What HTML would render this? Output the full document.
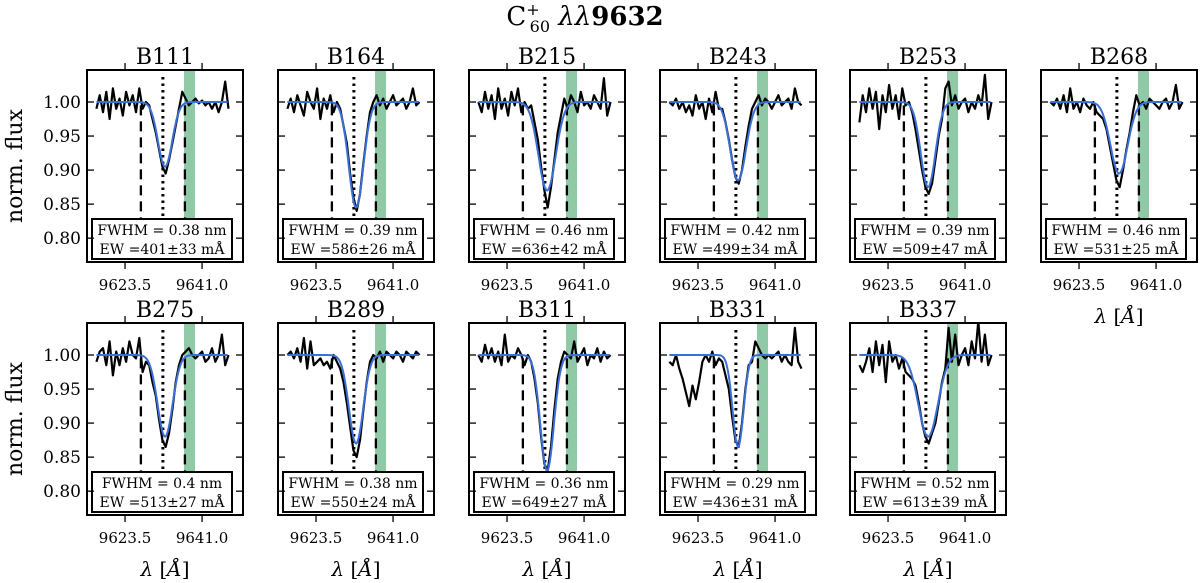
<!DOCTYPE html>
<html><head><meta charset="utf-8">
<style>
html,body{margin:0;padding:0;background:#fff;}
svg{display:block;font-family:"DejaVu Serif","Liberation Serif",serif;}
</style></head>
<body>
<svg id="fig" width="1200" height="583" viewBox="0 0 1200 583" xmlns="http://www.w3.org/2000/svg">
<text x="585" y="25" text-anchor="middle" font-size="26">C<tspan font-size="16" dy="-10">+</tspan><tspan font-size="16" dx="-10" dy="17">60</tspan><tspan dy="-7" font-style="italic"> λλ</tspan><tspan font-weight="bold">9632</tspan></text>
</svg>
<script>
const names = ["B111","B164","B215","B243","B253","B268","B275","B289","B311","B331","B337"];
const fitMin = [0.905,0.845,0.87,0.885,0.875,0.895,0.88,0.87,0.83,0.865,0.88];
const fwhmNm = [0.38,0.39,0.46,0.42,0.39,0.46,0.4,0.38,0.36,0.29,0.52];
const ewVal = [401,586,636,499,509,531,513,550,649,436,613];
const ewErr = [33,26,42,34,47,25,27,24,27,31,39];
const fitCenter = 9632.6;
const lambdaStart = 9617, lambdaStep = 0.75;
const xTicks = [9623.5, 9641.0];
const yTicks = [0.80, 0.85, 0.90, 0.95, 1.00];
const dashL = 9627.1, dotC = 9632.1, dashR = 9637.1, bandL = 9636.9, bandR = 9639.4;
const obs = [
[0.99,1.01,0.985,1.015,0.975,1.02,0.99,1.005,0.98,1.015,0.995,1.01,0.985,1.02,0.99,1.0,0.995,0.975,0.955,0.93,0.905,0.895,0.915,0.94,0.965,0.99,1.015,1.005,0.995,1.0,1.005,0.998,1.002,0.995,1.0,0.99,1.0,0.985,1.0,1.03,0.99],
[0.99,1.005,0.985,1.01,0.995,0.98,1.015,1.0,0.99,1.02,0.975,1.005,0.99,1.01,0.985,1.0,0.99,0.965,0.94,0.895,0.86,0.84,0.865,0.91,0.95,0.985,1.0,1.01,0.995,1.005,0.99,1.0,1.01,0.995,1.0,1.005,0.99,1.0,1.02,0.995,1.0],
[1.0,0.985,1.015,0.99,1.01,0.975,1.02,0.99,1.005,0.98,1.015,0.995,1.02,0.985,1.0,0.99,0.995,0.97,0.945,0.905,0.87,0.845,0.875,0.915,0.955,0.98,1.005,0.99,1.01,1.0,0.985,1.015,0.995,1.0,0.99,1.01,1.0,0.99,1.035,0.98,1.0],
[1.0,0.995,1.005,0.99,1.0,0.985,0.995,0.98,1.01,0.99,1.0,0.975,1.005,0.985,1.015,0.99,0.99,0.97,0.945,0.915,0.89,0.88,0.9,0.935,0.965,0.99,1.0,1.01,0.995,1.005,1.0,0.99,1.0,1.01,0.995,1.0,1.005,0.99,1.02,1.0,0.995],
[0.97,1.01,0.985,1.02,0.99,1.015,0.96,1.01,0.985,1.025,0.99,1.01,0.975,1.02,0.995,1.0,0.985,0.96,0.93,0.9,0.875,0.865,0.88,0.915,0.95,0.975,1.02,1.03,0.995,1.01,0.99,1.0,1.005,0.985,1.0,0.99,1.01,0.995,1.04,0.975,1.0],
[1.0,0.995,1.005,0.99,1.01,0.985,1.02,0.99,1.0,0.985,1.005,0.995,0.99,1.0,0.985,0.98,0.975,0.96,0.935,0.91,0.885,0.875,0.9,0.93,0.955,0.985,1.01,0.995,1.0,0.99,1.005,1.0,0.995,0.99,1.0,1.005,0.99,1.0,1.025,0.99,1.0],
[0.99,1.005,1.01,0.985,1.02,0.97,1.005,0.985,1.01,0.99,1.02,1.0,0.995,1.025,0.975,0.99,0.985,0.96,0.94,0.905,0.875,0.865,0.885,0.92,0.96,0.985,1.0,1.005,1.01,1.0,0.995,1.0,1.005,0.99,0.995,1.01,0.99,1.0,1.03,0.985,1.0],
[1.0,1.005,0.995,1.01,0.99,1.025,0.98,1.02,0.985,0.99,0.995,0.985,0.99,0.98,1.0,0.99,0.98,0.96,0.93,0.895,0.86,0.85,0.875,0.92,0.96,0.99,1.0,0.995,1.005,0.99,1.005,1.0,0.995,1.005,1.0,0.99,1.005,1.0,0.995,1.005,1.0],
[1.0,0.99,1.015,0.995,1.01,0.99,1.005,0.985,1.03,0.99,1.0,0.995,1.01,1.0,0.985,1.0,0.99,0.965,0.93,0.88,0.84,0.83,0.865,0.92,0.965,0.99,1.005,1.0,0.995,1.02,0.99,1.0,1.01,0.985,1.0,0.995,1.01,0.99,1.005,0.995,1.0],
[0.99,0.985,1.0,0.98,0.965,0.945,0.925,0.955,0.935,0.96,0.99,1.0,0.99,1.005,0.985,0.995,0.99,0.97,0.95,0.91,0.875,0.865,0.9,0.95,0.985,0.99,1.02,1.01,1.0,0.995,1.0,0.995,1.0,1.005,0.99,1.0,0.99,0.985,1.04,0.99,0.98],
[0.985,0.975,0.99,1.01,0.975,1.02,0.985,1.015,0.96,1.02,0.99,1.0,0.98,0.995,0.975,0.97,0.965,0.955,0.93,0.9,0.88,0.87,0.885,0.9,0.93,0.96,0.98,1.04,0.99,1.03,0.985,1.0,1.01,0.985,1.02,0.995,1.05,0.99,1.03,0.985,1.0]
];
const colX = [87,278,469,660,850,1041];
const rowY = [70,323];
const W = 156, H = 192;
const xMin = 9614.86, xMax = 9650.3, yMin = 0.765, yMax = 1.047;
const svg = document.getElementById('fig');
const NS = 'http://www.w3.org/2000/svg';
function mk(tag, attrs, parent){ const e=document.createElementNS(NS,tag); for(const k in attrs) e.setAttribute(k,attrs[k]); (parent||svg).appendChild(e); return e; }

names.forEach((nm, p) => {
  const row = p < 6 ? 0 : 1, col = p < 6 ? p : p - 6;
  const x0 = colX[col], y0 = rowY[row];
  const sx = v => x0 + (v - xMin) / (xMax - xMin) * W;
  const sy = v => y0 + (yMax - v) / (yMax - yMin) * H;
  const g = mk('g', {});
  
  
  const clipId = 'c' + p;
  const cp = mk('clipPath', {id: clipId}, g);
  mk('rect', {x: x0, y: y0, width: W, height: H}, cp);
  const inner = mk('g', {'clip-path': 'url(#' + clipId + ')'}, g);
  const band = mk('rect', {x: sx(bandL), y: y0, width: sx(bandR) - sx(bandL), height: H - 40, fill: '#8fc9a6'}, inner);
  
  
  [dashL, dashR].forEach(v => {
    const l = mk('line', {x1: sx(v), x2: sx(v), y1: sy(0.995), y2: sy(0.78), stroke: '#000', 'stroke-width': 2.3, 'stroke-dasharray': '10,6'}, inner);
    
    
  });
  const dl = mk('line', {x1: sx(dotC), x2: sx(dotC), y1: y0 + 7, y2: sy(0.78), stroke: '#000', 'stroke-width': 3, 'stroke-dasharray': '2.5,4'}, inner);
  
  
  let d = '', pen = false;
  obs[p].forEach((v, i) => {
    if (v === null) { pen = false; return; }
    d += (pen ? 'L' : 'M') + sx(lambdaStart + i * lambdaStep).toFixed(1) + ',' + sy(v).toFixed(1);
    pen = true;
  });
  const op = mk('path', {d: d, fill: 'none', stroke: '#000', 'stroke-width': 2.2, 'stroke-linejoin': 'round'}, inner);
  
  
  const sig = fwhmNm[p] * 10 / 2.355, depth = 1 - fitMin[p];
  let fd = '';
  for (let L = lambdaStart; L <= lambdaStart + 30; L += 0.2) {
    const v = 1 - depth * Math.exp(-0.5 * Math.pow((L - fitCenter) / sig, 2));
    fd += (fd ? 'L' : 'M') + sx(L).toFixed(1) + ',' + sy(v).toFixed(1);
  }
  const fp = mk('path', {d: fd, fill: 'none', stroke: '#3b6fd8', 'stroke-width': 2}, inner);
  
  
  const lg = mk('g', {}, g);
  
  
  mk('rect', {x: x0 + 5, y: y0 + 149, width: 140, height: 40, fill: '#fff', stroke: '#000', 'stroke-width': 2}, lg);
  const t1 = mk('text', {x: x0 + 75, y: y0 + 165, 'text-anchor': 'middle', 'font-size': 14}, lg);
  t1.textContent = 'FWHM = ' + fwhmNm[p] + ' nm';
  const t2 = mk('text', {x: x0 + 75, y: y0 + 184, 'text-anchor': 'middle', 'font-size': 14}, lg);
  t2.textContent = 'EW =' + ewVal[p] + '±' + ewErr[p] + ' mÅ';
  yTicks.forEach(v => {
    mk('line', {x1: x0, x2: x0 + 7, y1: sy(v), y2: sy(v), stroke: '#000', 'stroke-width': 1.3}, g);
    mk('line', {x1: x0 + W - 7, x2: x0 + W, y1: sy(v), y2: sy(v), stroke: '#000', 'stroke-width': 1.3}, g);
    if (col === 0) {
      const tl = mk('text', {x: x0 - 6, y: sy(v) + 6, 'text-anchor': 'end', 'font-size': 17}, g);
      
      
      tl.textContent = v.toFixed(2);
    }
  });
  xTicks.forEach(v => {
    mk('line', {x1: sx(v), x2: sx(v), y1: y0 - 7, y2: y0, stroke: '#000', 'stroke-width': 1.3}, g);
    mk('line', {x1: sx(v), x2: sx(v), y1: y0 + H, y2: y0 + H + 7, stroke: '#000', 'stroke-width': 1.3}, g);
    const tl = mk('text', {x: sx(v), y: y0 + H + 28, 'text-anchor': 'middle', 'font-size': 15}, g);
    
    
    tl.textContent = v.toFixed(1);
  });
  mk('rect', {x: x0, y: y0, width: W, height: H, fill: 'none', stroke: '#000', 'stroke-width': 2}, g);
  const tt = mk('text', {x: x0 + W / 2, y: y0 - 6, 'text-anchor': 'middle', 'font-size': 22}, g);
  
  
  tt.textContent = nm;
  if (row === 1 || p === 5) {
    const xl = mk('text', {x: x0 + W / 2, y: y0 + H + 61, 'text-anchor': 'middle', 'font-size': 20}, g);
    
    
    xl.innerHTML = '<tspan font-style="italic">λ</tspan> [<tspan font-style="italic">Å</tspan>]';
  }
  if (col === 0) {
    const cy = y0 + H / 2;
    const yl = mk('text', {x: 22, y: cy, 'text-anchor': 'middle', 'font-size': 22, transform: 'rotate(-90 22 ' + cy + ')'}, g);
    
    
    yl.textContent = 'norm. flux';
  }
});
</script>
</body></html>
